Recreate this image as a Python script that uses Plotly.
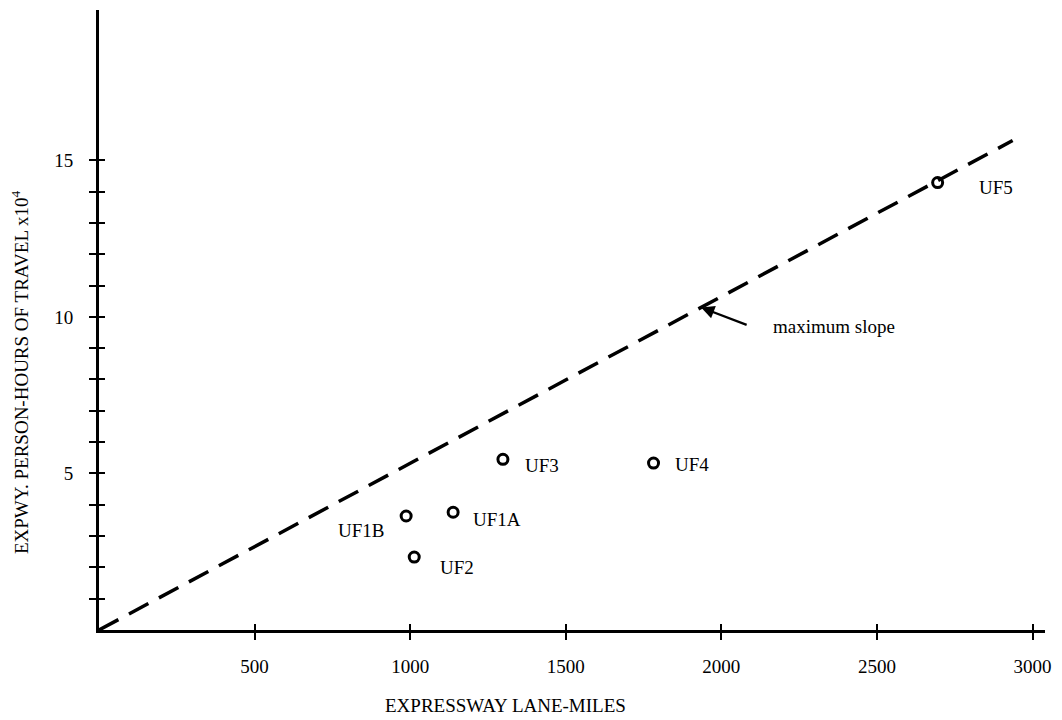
import plotly.graph_objects as go

# ---- data ----
labels = ["UF1A", "UF1B", "UF2", "UF3", "UF4", "UF5"]
lane_miles = [1138, 987, 1013, 1298, 1782, 2695]
person_hours = [3.76, 3.64, 2.33, 5.45, 5.33, 14.29]

# maximum-slope line end points
slope_x = [0, 2936]
slope_y = [0, 15.63]

# point on the line where the "maximum slope" arrow points
arrow_x = [1935]
arrow_y = [10.3]

x_ticks = [500, 1000, 1500, 2000, 2500, 3000]
y_ticks = list(range(1, 16))
y_ticktext = [str(v) if v % 5 == 0 else "" for v in y_ticks]

X_RANGE = [0, 3040]
Y_RANGE = [0, 19.8]

FONT = "Liberation Serif, Times New Roman, serif"
FS = 19

# label placement (pixels): xanchor, xshift, yshift
label_style = {
    "UF1A": ("left", 18, -7),
    "UF1B": ("right", -20, -14),
    "UF2": ("left", 24, -10),
    "UF3": ("left", 20, -6),
    "UF4": ("left", 19, -1),
    "UF5": ("left", 39, -5),
}

fig = go.Figure()

fig.add_trace(go.Scatter(
    x=slope_x, y=slope_y, mode="lines",
    line=dict(color="black", width=3.5, dash="22px,12px"),
    hoverinfo="skip", showlegend=False,
))

fig.add_trace(go.Scatter(
    x=lane_miles, y=person_hours, mode="markers",
    marker=dict(symbol="circle-open", size=10, color="black",
                line=dict(width=3, color="black")),
    showlegend=False,
))

# empty trace to activate the overlay axes (inner half of crossing ticks)
fig.add_trace(go.Scatter(x=[], y=[], xaxis="x2", yaxis="y2",
                         showlegend=False, hoverinfo="skip"))

annotations = []
for name, xv, yv in zip(labels, lane_miles, person_hours):
    anchor, xs, ys = label_style[name]
    annotations.append(dict(
        x=xv, y=yv, xref="x", yref="y", text=name, showarrow=False,
        xanchor=anchor, yanchor="middle", xshift=xs, yshift=ys,
        font=dict(family=FONT, size=FS, color="black"),
    ))

# arrow for "maximum slope"
annotations.append(dict(
    x=arrow_x[0], y=arrow_y[0], xref="x", yref="y", text="",
    showarrow=True, arrowhead=2, arrowsize=1.2, arrowwidth=2.2,
    arrowcolor="black", ax=47, ay=18,
))
annotations.append(dict(
    x=arrow_x[0], y=arrow_y[0], xref="x", yref="y", text="maximum slope",
    showarrow=False, xanchor="left", yanchor="middle", xshift=70, yshift=-19,
    font=dict(family=FONT, size=FS, color="black"),
))

# axis titles
annotations.append(dict(
    x=0.43, y=0, xref="paper", yref="paper",
    text="EXPRESSWAY LANE-MILES", showarrow=False,
    xanchor="center", yanchor="middle", yshift=-75,
    font=dict(family=FONT, size=FS, color="black"),
))
annotations.append(dict(
    x=0, y=0.416, xref="paper", yref="paper",
    text="EXPWY. PERSON-HOURS OF TRAVEL x10<sup>4</sup>", showarrow=False,
    xanchor="center", yanchor="middle", xshift=-79, textangle=-90,
    font=dict(family=FONT, size=FS, color="black"),
))

fig.update_layout(
    width=1062, height=720,
    margin=dict(l=99, r=14, t=10, b=90),
    paper_bgcolor="white", plot_bgcolor="white",
    font=dict(family=FONT, size=FS, color="black"),
    xaxis=dict(
        range=X_RANGE, showgrid=False, zeroline=False,
        showline=True, linecolor="black", linewidth=2.5,
        ticks="outside", ticklen=7, tickwidth=2, tickcolor="black",
        tickvals=x_ticks, ticklabelstandoff=10,
        tickfont=dict(family=FONT, size=FS, color="black"),
    ),
    yaxis=dict(
        range=Y_RANGE, showgrid=False, zeroline=False,
        showline=True, linecolor="black", linewidth=3,
        ticks="outside", ticklen=7, tickwidth=2, tickcolor="black",
        tickvals=y_ticks, ticktext=y_ticktext, ticklabelstandoff=12,
        tickfont=dict(family=FONT, size=FS, color="black"),
    ),
    xaxis2=dict(
        range=X_RANGE, overlaying="x", anchor="y2", side="bottom",
        showgrid=False, zeroline=False, showline=False,
        ticks="inside", ticklen=6, tickwidth=2, tickcolor="black",
        tickvals=x_ticks, showticklabels=False,
    ),
    yaxis2=dict(
        range=Y_RANGE, overlaying="y", anchor="x2", side="left",
        showgrid=False, zeroline=False, showline=False,
        ticks="inside", ticklen=6, tickwidth=2, tickcolor="black",
        tickvals=y_ticks, showticklabels=False,
    ),
    annotations=annotations,
)

fig.write_html("out.html")
